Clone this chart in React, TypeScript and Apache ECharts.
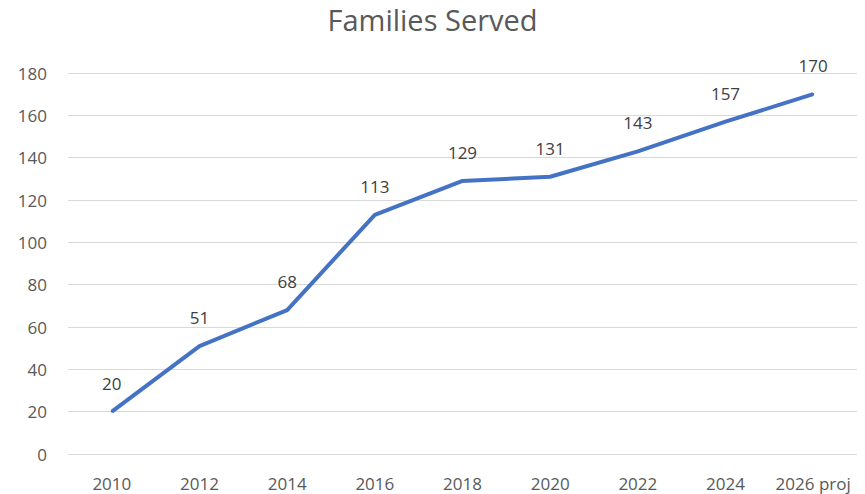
import React, { useEffect, useRef } from "react";
import * as echarts from "echarts";

const categories = ["2010", "2012", "2014", "2016", "2018", "2020", "2022", "2024", "2026 proj"];
const familiesServed = [20, 51, 68, 113, 129, 131, 143, 157, 170];
const yTicks = { min: 0, max: 180, interval: 20 };

export default function App() {
  const ref = useRef<HTMLDivElement>(null);
  useEffect(() => {
    if (!ref.current) return;
    const chart = echarts.init(ref.current, undefined, { renderer: "svg" });
    const font = "'Open Sans', 'Noto Sans', sans-serif";
    chart.setOption({
      animation: false,
      backgroundColor: "#ffffff",
      title: {
        text: "Families Served",
        left: "center",
        top: 0,
        textStyle: { fontFamily: font, fontSize: 29, fontWeight: "normal", color: "#595959" },
      },
      grid: { left: 68, right: 8, top: 73, bottom: 40 },
      xAxis: {
        type: "category",
        data: categories,
        boundaryGap: true,
        axisLine: { show: false },
        axisTick: { show: false },
        axisLabel: { fontFamily: font, fontSize: 17, color: "#595959", margin: 21, interval: 0 },
      },
      yAxis: {
        type: "value",
        min: yTicks.min,
        max: yTicks.max,
        interval: yTicks.interval,
        axisLine: { show: false },
        axisTick: { show: false },
        axisLabel: { fontFamily: font, fontSize: 17, color: "#595959", margin: 21 },
        splitLine: { lineStyle: { color: "#d9d9d9", width: 1 } },
      },
      series: [
        {
          type: "line",
          data: familiesServed,
          symbol: "circle",
          symbolSize: 2,
          showSymbol: true,
          lineStyle: { color: "#4472C4", width: 4 },
          itemStyle: { color: "#4472C4" },
          label: {
            show: true,
            position: "top",
            distance: 19,
            fontFamily: font,
            fontSize: 17,
            color: "#404040",
          },
        },
      ],
    });
    return () => chart.dispose();
  }, []);
  return (
    <div
      ref={ref}
      style={{ position: "fixed", left: 0, top: 0, width: 865, height: 494 }}
    />
  );
}
